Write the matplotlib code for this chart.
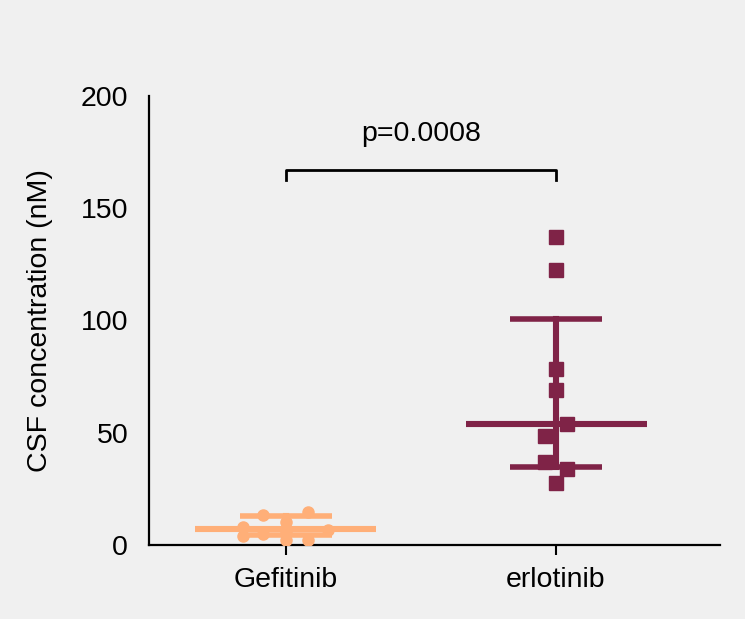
import matplotlib
matplotlib.use("Agg")
import matplotlib.pyplot as plt

plt.rcParams['font.family'] = ['Liberation Sans', 'DejaVu Sans']

groups = ["Gefitinib", "erlotinib"]
colors = ["#ffaf78", "#7f2347"]
markers = ["o", "s"]

# individual points: (jitter offset, value)
gef_offset = [-0.16, -0.085, 0.0, 0.08, 0.0, 0.08, 0.155, -0.16, -0.085, 0.0]
gef_values = [8.2, 13.4, 10.4, 14.8, 2.2, 2.2, 6.7, 4.2, 4.8, 6.0]
erl_offset = [0.0, 0.0, 0.0, 0.0, 0.04, -0.04, -0.04, 0.04, 0.0]
erl_values = [137.2, 122.4, 78.3, 68.9, 53.8, 48.4, 36.8, 33.7, 27.5]

# median and interquartile range as drawn
medians = [7.0, 53.8]
q1 = [4.5, 34.9]
q3 = [13.0, 100.5]

p_text = "p=0.0008"
fs = 20.5

fig = plt.figure(figsize=(7.45, 6.19), dpi=100, facecolor="#f0f0f0")
ax = fig.add_axes([0.2, 0.1195, 0.7664, 0.7255])
ax.set_facecolor("#f0f0f0")

points = [(gef_offset, gef_values), (erl_offset, erl_values)]
for i in range(2):
    c = colors[i]
    ax.plot([i - 0.335, i + 0.335], [medians[i]] * 2, color=c, lw=4.4,
            solid_capstyle="butt", zorder=2)
    ax.plot([i, i], [q1[i], q3[i]], color=c, lw=4.4, zorder=2)
    for y in (q1[i], q3[i]):
        ax.plot([i - 0.17, i + 0.17], [y, y], color=c, lw=4.0,
                solid_capstyle="butt", zorder=2)
    offs, vals = points[i]
    ax.plot([i + o for o in offs], vals, linestyle="none", marker=markers[i],
            ms=8 if i == 0 else 9.4, color=c, mec=c, zorder=3)

# significance bracket
ax.plot([0, 0, 1, 1], [162.5, 167, 167, 162.5], color="black", lw=2,
        clip_on=False, zorder=4)
ax.text(0.5, 183, p_text, ha="center", va="center", fontsize=fs)

ax.set_xlim(-0.507, 1.607)
ax.set_ylim(0, 200)
ax.set_xticks([0, 1])
ax.set_xticklabels(groups, fontsize=fs)
ax.set_yticks([0, 50, 100, 150, 200])
ax.tick_params(axis="y", length=0, pad=15, labelsize=fs)
ax.tick_params(axis="x", length=7, width=1.5, pad=9)
ax.set_ylabel("CSF concentration (nM)", fontsize=fs, labelpad=20)

for s in ["top", "right"]:
    ax.spines[s].set_visible(False)
for s in ["left", "bottom"]:
    ax.spines[s].set_linewidth(1.6)

fig.savefig("out.png", dpi=100, facecolor=fig.get_facecolor())
